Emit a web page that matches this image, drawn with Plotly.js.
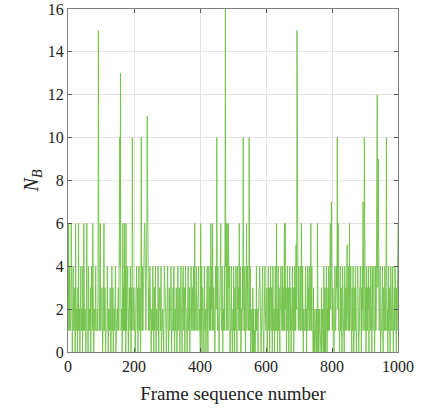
<!DOCTYPE html>
<html>
<head>
<meta charset="utf-8">
<script src="https://cdn.plot.ly/plotly-3.0.1.min.js"></script>
<style>html,body{margin:0;padding:0;background:#fff;}#chart{width:421px;height:410px;}</style>
</head>
<body>
<div id="chart"></div>
<script>
// N_B per frame, frames 1..1000 (50 per row)
var nb_000 = [1,6,1,1,4,1,1,2,2,6, 1,1,0,1,2,4,1,1,1,3, 2,0,6,1,1,2,2,1,0,3, 1,6,1,2,2,0,1,3,4,1, 1,2,2,0,4,1,1,6,3,1];
var nb_050 = [2,2,1,0,1,3,6,1,1,1, 0,4,1,2,2,1,1,3,0,2, 4,1,1,1,6,3,3,0,1,2, 2,1,3,4,1,1,1,1,2,1, 3,15,8,4,1,2,3,6,1,1];
var nb_100 = [2,2,3,1,0,1,1,4,6,1, 3,3,2,0,1,1,1,1,4,1, 1,0,2,2,2,1,3,3,1,0, 1,1,4,1,1,3,0,1,2,2, 1,3,3,4,0,1,1,1,2,2];
var nb_150 = [1,3,3,1,4,6,10,4,13,3, 1,2,2,0,1,6,2,1,3,1, 6,1,1,4,0,6,1,2,3,3, 4,1,0,2,2,3,1,1,4,1, 0,3,1,2,10,1,1,2,3,1];
var nb_200 = [2,1,1,0,1,3,3,4,1,1, 3,0,2,2,4,1,1,3,1,0, 4,10,3,1,1,4,1,3,3,6, 4,6,6,2,2,1,3,4,6,11, 6,4,2,1,3,1,2,4,1,2];
var nb_250 = [1,0,2,2,1,1,4,1,1,0, 3,3,1,3,4,1,0,2,2,1, 1,1,4,1,0,2,2,3,3,1, 1,4,0,1,1,2,2,1,1,0, 2,4,3,3,1,1,1,0,1,3];
var nb_300 = [3,4,1,1,0,3,3,1,1,2, 2,4,1,0,1,1,1,3,3,1, 4,1,0,2,2,1,3,3,2,0, 1,1,4,1,1,3,3,2,0,1, 1,4,2,2,1,0,3,3,4,1];
var nb_350 = [1,3,3,0,1,4,2,2,1,1, 0,2,1,4,1,1,1,3,0,1, 2,2,4,1,1,3,3,2,1,4, 1,1,2,6,1,2,2,3,4,1, 1,1,2,3,3,4,1,2,2,1];
var nb_400 = [0,6,1,1,4,0,3,3,1,2, 1,0,4,3,1,2,2,0,1,3, 3,4,1,0,2,2,4,1,1,3, 3,1,6,2,4,1,1,6,4,1, 3,3,2,1,0,1,4,2,2,3];
var nb_450 = [10,3,1,4,2,1,1,0,2,3, 3,4,6,2,1,1,4,1,0,2, 2,1,3,4,1,6,16,4,6,3, 1,6,1,2,1,6,3,3,4,2, 0,1,1,3,4,1,1,0,2,2];
var nb_500 = [1,4,2,0,3,3,1,2,4,1, 1,0,1,4,2,3,3,1,6,2, 1,4,3,0,2,2,1,3,4,2, 10,4,1,1,2,4,1,0,3,3, 6,1,2,4,3,1,1,2,10,3];
var nb_550 = [1,4,2,0,1,0,2,1,0,3, 1,0,2,0,1,1,0,1,2,1, 4,1,2,2,1,0,2,2,3,3, 4,1,1,1,0,1,2,3,3,4, 1,1,0,1,3,3,4,2,1,1];
var nb_600 = [2,2,3,0,1,1,4,1,1,3, 0,2,2,4,1,1,3,3,0,1, 4,1,1,2,2,0,1,4,1,1, 3,6,1,2,0,1,4,1,3,3, 1,0,2,2,4,1,3,1,1,4];
var nb_650 = [1,3,1,1,4,6,1,6,2,2, 3,0,1,1,4,1,3,3,0,2, 2,4,1,1,3,0,1,2,2,4, 1,3,3,0,1,1,4,1,3,1, 5,2,4,15,3,11,2,1,4,3];
var nb_700 = [2,1,1,4,3,1,6,2,1,1, 4,1,0,2,2,1,1,1,3,4, 1,2,0,1,1,4,1,3,3,2, 4,1,1,1,3,6,1,2,4,1, 1,1,0,3,0,1,0,2,1,0];
var nb_750 = [1,0,2,1,0,6,1,0,2,0, 1,0,2,1,0,1,0,3,0,1, 2,0,1,0,4,1,0,1,3,0, 1,2,4,1,0,2,1,3,1,4, 2,1,3,4,6,2,3,7,4,2];
var nb_800 = [1,3,3,2,1,0,1,1,4,2, 1,3,3,4,3,10,4,2,6,1, 1,1,0,2,4,1,3,3,1,0, 1,4,2,2,1,1,0,2,4,1, 3,3,1,4,1,5,2,1,1,4];
var nb_850 = [2,1,6,1,3,3,4,1,1,0, 3,1,1,4,1,0,2,2,3,1, 4,1,1,0,1,3,3,4,2,1, 0,1,1,3,3,4,1,2,0,3, 1,4,2,7,3,4,1,10,4,2];
var nb_900 = [1,3,0,1,4,1,1,3,2,2, 4,0,3,3,1,1,4,2,2,1, 0,4,1,1,3,3,4,2,0,1, 1,4,1,2,4,6,12,4,3,9, 4,1,1,3,3,4,0,2,1,1];
var nb_950 = [2,1,4,1,0,3,3,1,1,4, 3,2,1,4,10,3,1,2,0,1, 4,1,3,3,1,0,1,4,2,1, 1,1,2,4,1,0,2,2,3,1, 4,2,1,1,0,3,1,2,4,6];

var xTicks = [0, 200, 400, 600, 800, 1000];
var yTicks = [0, 2, 4, 6, 8, 10, 12, 14, 16];
var xTitle = 'Frame sequence number';
var yTitle = '<i>N</i><sub><i>B</i></sub>';

var nb = [].concat(nb_000, nb_050, nb_100, nb_150, nb_200, nb_250, nb_300, nb_350, nb_400, nb_450,
                   nb_500, nb_550, nb_600, nb_650, nb_700, nb_750, nb_800, nb_850, nb_900, nb_950);
var frames = nb.map(function (_, i) { return i + 1; });

var font = 'Liberation Serif, Times New Roman, serif';
var axisCommon = {
  showline: true, linecolor: '#7f7f7f', linewidth: 1, mirror: 'ticks',
  ticks: 'inside', ticklen: 4, tickcolor: '#555', tickwidth: 1,
  showgrid: true, gridcolor: '#e4e4e4', gridwidth: 1, zeroline: false,
  ticklabeloverflow: 'allow',
  tickfont: {family: font, size: 16, color: '#222'}
};

var trace = {
  x: frames, y: nb, type: 'scatter', mode: 'lines',
  line: {color: 'rgb(112,194,72)', width: 0.9},
  hoverinfo: 'skip'
};

var layout = {
  width: 421, height: 410,
  margin: {l: 68, r: 23, t: 9, b: 58},
  paper_bgcolor: '#fff', plot_bgcolor: '#fff',
  showlegend: false,
  font: {family: font, color: '#222'},
  xaxis: Object.assign({}, axisCommon, {
    range: [0, 1000], tickvals: xTicks, ticktext: xTicks.map(String),
    title: {text: xTitle, font: {family: font, size: 19, color: '#222'}, standoff: 12}
  }),
  yaxis: Object.assign({}, axisCommon, {
    range: [0, 16], tickvals: yTicks, ticktext: yTicks.map(String),
    title: {text: yTitle, font: {family: font, size: 20, color: '#222'}, standoff: 3}
  })
};

Plotly.newPlot('chart', [trace], layout, {displayModeBar: false, staticPlot: true});
</script>
</body>
</html>
